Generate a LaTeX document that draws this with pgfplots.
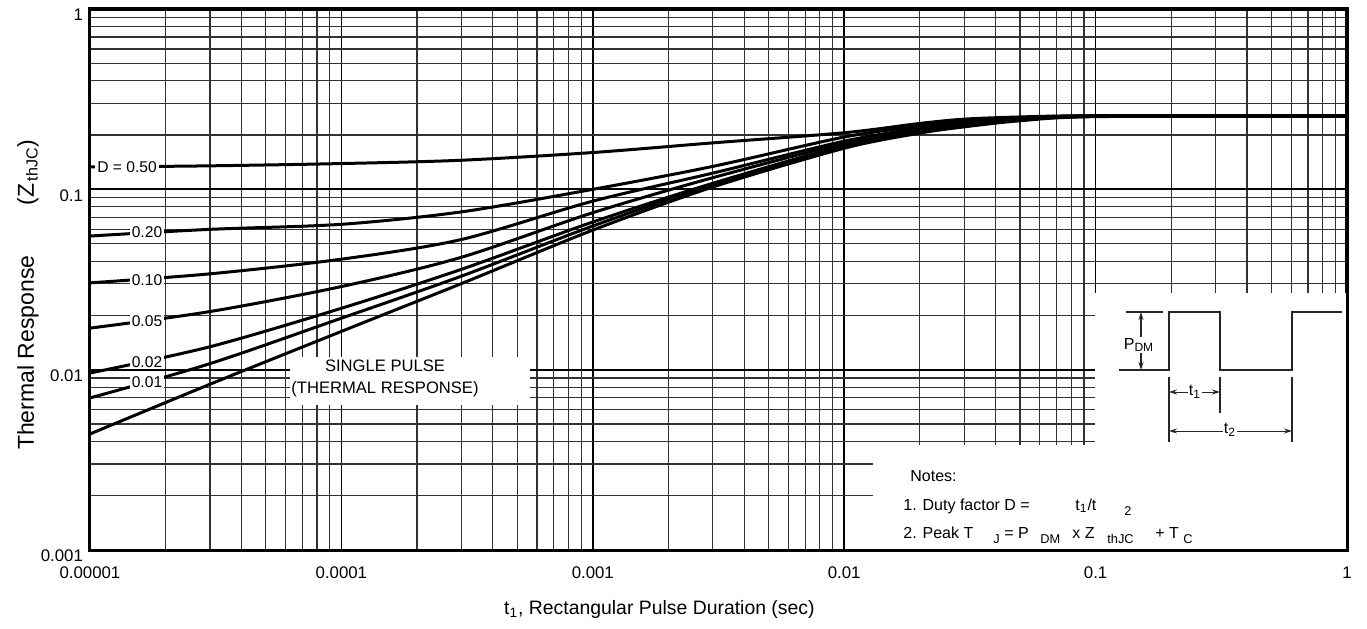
\documentclass[border=0pt]{standalone}
\usepackage{fontspec}
\setmainfont{Liberation Sans}
\usepackage{pgfplots}
\pgfplotsset{compat=1.18}
\usetikzlibrary{arrows.meta}

\begin{document}
\begin{tikzpicture}
\begin{axis}[
  name=ax,
  xmode=log, ymode=log,
  width=628.5pt, height=270.5pt, scale only axis,
  xmin=1e-5, xmax=1, ymin=1e-3, ymax=1,
  xtick={1e-5,1e-4,1e-3,1e-2,1e-1,1},
  xticklabels={0.00001,0.0001,0.001,0.01,0.1,1},
  ytick={1e-3,1e-2,1e-1,1},
  yticklabels={0.001,0.01,0.1,1},
  minor xtick={2e-5,3e-5,4e-5,5e-5,6e-5,7e-5,8e-5,9e-5,
               2e-4,3e-4,4e-4,5e-4,6e-4,7e-4,8e-4,9e-4,
               2e-3,3e-3,4e-3,5e-3,6e-3,7e-3,8e-3,9e-3,
               2e-2,3e-2,4e-2,5e-2,6e-2,7e-2,8e-2,9e-2,
               0.2,0.3,0.4,0.5,0.6,0.7,0.8,0.9},
  minor ytick={0.002,0.003,0.004,0.005,0.006,0.007,0.008,0.009,
               0.02,0.03,0.04,0.05,0.06,0.07,0.08,0.09,
               0.2,0.3,0.4,0.5,0.6,0.7,0.8,0.9},
  grid=both,
  major grid style={black, line width=0.85pt},
  minor grid style={black!80, line width=0.6pt},
  major tick length=0pt, minor tick length=0pt,
  axis line style={line width=1.5pt},
  tick label style={font=\fontsize{8.4}{10}\selectfont},
  xticklabel style={yshift=-5pt},
  yticklabel style={yshift=-3pt},
  xlabel={t\textsubscript{1}, Rectangular Pulse Duration (sec)},
  ylabel={Thermal Response\hspace{25pt}(Z\textsubscript{\,thJC})},
  xlabel style={at={(axis description cs:0.453,0)}, anchor=base, yshift=-32pt, font=\fontsize{9.7}{12}\selectfont},
  ylabel style={at={(axis description cs:-0.0493,0.472)}, anchor=center, font=\fontsize{11.5}{13}\selectfont},
]
% D = 0.50
\addplot[black, line width=1.5pt, smooth] coordinates {
  (1e-5,0.133)(3e-5,0.135)(1e-4,0.139)(3e-4,0.145)(1e-3,0.160)(3e-3,0.181)
  (1e-2,0.206)(2e-2,0.232)(3e-2,0.245)(5e-2,0.252)(1e-1,0.256)(1,0.256)};
% D = 0.20
\addplot[black, line width=1.5pt, smooth] coordinates {
  (1e-5,0.0551)(3e-5,0.060)(1e-4,0.064)(3e-4,0.075)(1e-3,0.100)(3e-3,0.134)
  (1e-2,0.195)(2e-2,0.224)(3e-2,0.238)(5e-2,0.250)(1e-1,0.255)(1,0.255)};
% D = 0.10
\addplot[black, line width=1.5pt, smooth] coordinates {
  (1e-5,0.0303)(3e-5,0.0340)(1e-4,0.0410)(3e-4,0.0527)(1e-3,0.086)(3e-3,0.123)
  (1e-2,0.185)(2e-2,0.218)(3e-2,0.234)(5e-2,0.248)(1e-1,0.255)(1,0.255)};
% D = 0.05
\addplot[black, line width=1.5pt, smooth] coordinates {
  (1e-5,0.0170)(3e-5,0.0210)(1e-4,0.0289)(3e-4,0.042)(1e-3,0.0742)(3e-3,0.116)
  (1e-2,0.180)(2e-2,0.215)(3e-2,0.231)(5e-2,0.246)(1e-1,0.255)(1,0.255)};
% D = 0.02
\addplot[black, line width=1.5pt, smooth] coordinates {
  (1e-5,0.00958)(3e-5,0.0134)(1e-4,0.0219)(3e-4,0.036)(1e-3,0.0659)(3e-3,0.108)
  (1e-2,0.175)(2e-2,0.211)(3e-2,0.228)(5e-2,0.244)(1e-1,0.254)(1,0.255)};
% D = 0.01
\addplot[black, line width=1.5pt, smooth] coordinates {
  (1e-5,0.00697)(3e-5,0.0108)(1e-4,0.0193)(3e-4,0.033)(1e-3,0.0626)(3e-3,0.106)
  (1e-2,0.172)(2e-2,0.208)(3e-2,0.225)(5e-2,0.242)(1e-1,0.254)(1,0.255)};
% single pulse
\addplot[black, line width=1.5pt, smooth] coordinates {
  (1e-5,0.0044)(3e-5,0.0083)(1e-4,0.0163)(3e-4,0.030)(1e-3,0.0594)(3e-3,0.103)
  (1e-2,0.169)(2e-2,0.205)(3e-2,0.222)(5e-2,0.240)(1e-1,0.253)(1,0.255)};
\end{axis}

% annotations, in reference pixels from the axis corner (1px = 0.5pt)
\begin{scope}[shift={(ax.south west)}, x=0.5pt, y=0.5pt]
  \fill[white] (200,145) rectangle (440,193);
  \fill[white] (1005,0) rectangle (1257,257);
  \fill[white] (783,0) rectangle (1257,105);
  \draw[line width=1.5pt] (0,0) rectangle (1257,541);

  \begin{scope}[every node/.style={fill=white, inner xsep=1pt, inner ysep=0.5pt, font=\fontsize{7.8}{9}\selectfont}]
    \node at (37,383) {D = 0.50};
    \node at (57,317.5) {0.20};
    \node at (57,270) {0.10};
    \node at (57,229) {0.05};
    \node at (57,188) {0.02};
    \node at (57,168) {0.01};
  \end{scope}

  \node[align=center, font=\fontsize{8.3}{11}\selectfont, inner sep=0pt] at (295,172)
    {SINGLE PULSE\\(THERMAL RESPONSE)};

  % pulse sketch
  \draw[black!85, line width=0.8pt] (1029,180) -- (1079,180) -- (1079,238) -- (1130,238)
    -- (1130,180) -- (1202,180) -- (1202,238) -- (1252,238);
  \draw[black!85, line width=0.8pt] (1036,238) -- (1073,238);
  \draw[black!85, line width=0.6pt, {Stealth[length=4pt,width=2.5pt]}-{Stealth[length=4pt,width=2.5pt]}] (1051,238) -- (1051,180);
  \node[fill=white, inner sep=0.5pt, font=\fontsize{8}{9}\selectfont] at (1049,205) {P\textsubscript{DM}};
  \draw[black!85, line width=0.6pt] (1079,173) -- (1079,108);
  \draw[black!85, line width=0.6pt] (1130,173) -- (1130,137);
  \draw[black!85, line width=0.6pt] (1202,173) -- (1202,108);
  \draw[black!85, line width=0.5pt, {Stealth[length=4pt,width=2.5pt]}-{Stealth[length=4pt,width=2.5pt]}] (1079,158) -- (1130,158);
  \node[fill=white, inner sep=0.5pt, font=\fontsize{8}{9}\selectfont] at (1105,158) {t\textsubscript{1}};
  \draw[black!85, line width=0.5pt, {Stealth[length=4pt,width=2.5pt]}-{Stealth[length=4pt,width=2.5pt]}] (1079,119) -- (1202,119);
  \node[fill=white, inner sep=0.5pt, font=\fontsize{8}{9}\selectfont] at (1140,120) {t\textsubscript{2}};

  % notes
  \begin{scope}[every node/.style={anchor=base west, inner sep=0pt, font=\fontsize{8}{9}\selectfont}]
    \node at (820,69) {Notes:};
    \node at (813,40) {1. Duty factor D =};
    \node at (985,40) {t\textsubscript{1}/t};
    \node[font=\fontsize{6.4}{7}\selectfont] at (1034,35) {2};
    \node at (813,12) {2. Peak T};
    \node[font=\fontsize{6.4}{7}\selectfont] at (903,7) {J};
    \node at (914,12) {= P};
    \node[font=\fontsize{6.4}{7}\selectfont] at (950,7) {DM};
    \node at (982,12) {x Z};
    \node[font=\fontsize{6.4}{7}\selectfont] at (1017,7) {thJC};
    \node at (1065,12) {+ T};
    \node[font=\fontsize{6.4}{7}\selectfont] at (1093,7) {C};
  \end{scope}

  \pgfresetboundingbox
  \path[use as bounding box] (-90,-78) rectangle (1277,550);
\end{scope}
\end{tikzpicture}
\end{document}
